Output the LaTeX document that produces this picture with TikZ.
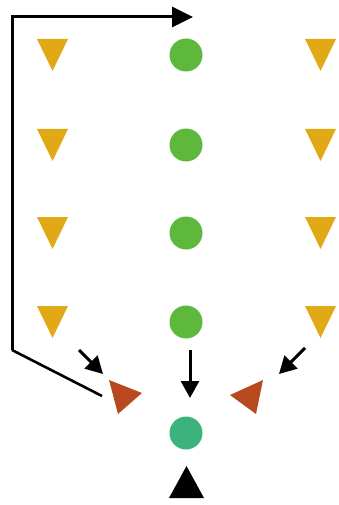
\documentclass[tikz,border=0pt]{standalone}
\usetikzlibrary{arrows.meta}
\definecolor{ylw}{HTML}{E2A917}
\definecolor{grn}{HTML}{5DB83B}
\definecolor{teal2}{HTML}{3CB37C}
\definecolor{rust}{HTML}{B8481E}
\tikzset{
  conn/.style={line width=3pt, -{Triangle[length=17pt,width=18pt]}},
  bigconn/.style={line width=3pt, -{Triangle[length=21pt,width=20pt]}},
  dot/.style={circle, inner sep=0pt, minimum size=33pt},
}
\begin{document}
\begin{tikzpicture}[x=1pt,y=-1pt]
\useasboundingbox (0,0) rectangle (339,505);
% yellow downward triangles and green dots
\foreach \r/\yy in {1/55,2/145,3/233,4/322}{
  \fill[ylw] (37,\yy-16) -- (68,\yy-16) -- (52.5,\yy+16) -- cycle;
  \fill[ylw] (305,\yy-16) -- (336,\yy-16) -- (320.5,\yy+16) -- cycle;
  \node[dot, fill=grn] (g\r) at (186,\yy) {};
}
% red triangles
\fill[rust] (109,380) -- (142,393) -- (118,414) -- cycle;
\fill[rust] (263,380) -- (230,395) -- (256,414) -- cycle;
\coordinate (lt) at (103,374);
\coordinate (rt) at (279,374);
% teal dot and black triangle
\node[dot, fill=teal2] (t) at (186,433) {};
\fill[black] (169,498) -- (204,498) -- (186.5,466) -- cycle;
% connectors
\coordinate (ls) at (79,350);
\coordinate (rs) at (305,348);
\coordinate (c1) at (12,17);
\coordinate (c2) at (12,350);
\coordinate (c3) at (102,396);
\coordinate (top) at (193,17);
\coordinate (cs) at (190,350);
\coordinate (ce) at (190,398);
\draw[conn] (ls) -- (lt);
\draw[conn] (rs) -- (rt);
\draw[conn] (cs) -- (ce);
\draw[bigconn] (c2) -- (c1) -- (top);
\draw[line width=2.6pt] (c2) -- (c3);
\end{tikzpicture}
\end{document}
